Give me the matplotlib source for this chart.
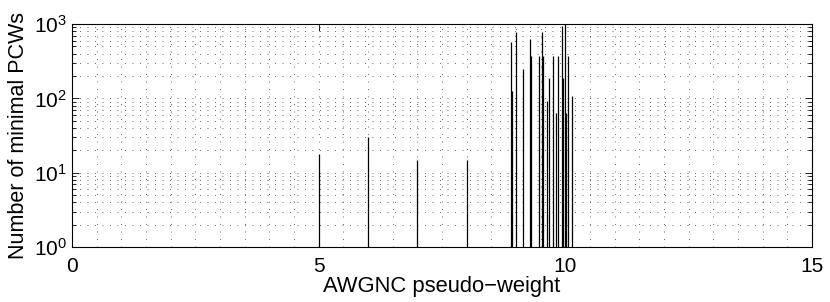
import matplotlib
matplotlib.use('Agg')
import matplotlib.pyplot as plt
from matplotlib.ticker import MultipleLocator, LogLocator

plt.rcParams['font.family'] = ['Liberation Sans', 'DejaVu Sans']
plt.rcParams['mathtext.fontset'] = 'custom'
plt.rcParams['mathtext.rm'] = 'Liberation Sans'

# pseudo-weights and number of minimal PCWs
pseudo_weights = [5.0, 6.0, 7.0, 8.0,
                  8.89, 8.91, 9.00, 9.14, 9.29, 9.31, 9.47, 9.53, 9.55,
                  9.63, 9.67, 9.75, 9.81, 9.85, 9.94, 9.96, 9.99, 10.01,
                  10.05, 10.14]
pcw_counts = [18, 30, 15, 15,
              570, 125, 780, 250, 630, 370, 370, 780, 370,
              91, 186, 370, 63, 370, 940, 186, 1050, 63,
              370, 107]

fig = plt.figure(figsize=(8.3, 3.02), dpi=100)
ax = fig.add_axes([0.0867, 0.182, 0.8916, 0.7385])

ax.vlines(pseudo_weights, 1, pcw_counts, colors='black', linewidth=0.9)

ax.set_yscale('log')
ax.set_xlim(0, 15)
ax.set_ylim(1, 1000)
ax.xaxis.set_major_locator(MultipleLocator(5))
ax.xaxis.set_minor_locator(MultipleLocator(0.5))
ax.yaxis.set_major_locator(LogLocator(base=10))
ax.yaxis.set_minor_locator(LogLocator(base=10, subs=range(2, 10)))

dots = (0, (1.4, 9.4))
ax.grid(True, which='both', axis='both', color='black', linewidth=0.5,
        linestyle=dots, alpha=0.8)

ax.tick_params(axis='both', which='both', direction='in', top=True, right=True,
               labelsize=15, width=0.6)
ax.tick_params(axis='both', which='major', length=5)
ax.tick_params(axis='y', which='minor', length=3)
ax.tick_params(axis='x', which='minor', length=0)
ax.tick_params(axis='x', pad=7)

for s in ax.spines.values():
    s.set_linewidth(0.8)

ax.set_xlabel('AWGNC pseudo\u2212weight', fontsize=15.8, labelpad=0)
ax.set_ylabel('Number of minimal PCWs', fontsize=15.5, labelpad=4)

fig.savefig('out.png', dpi=100)
